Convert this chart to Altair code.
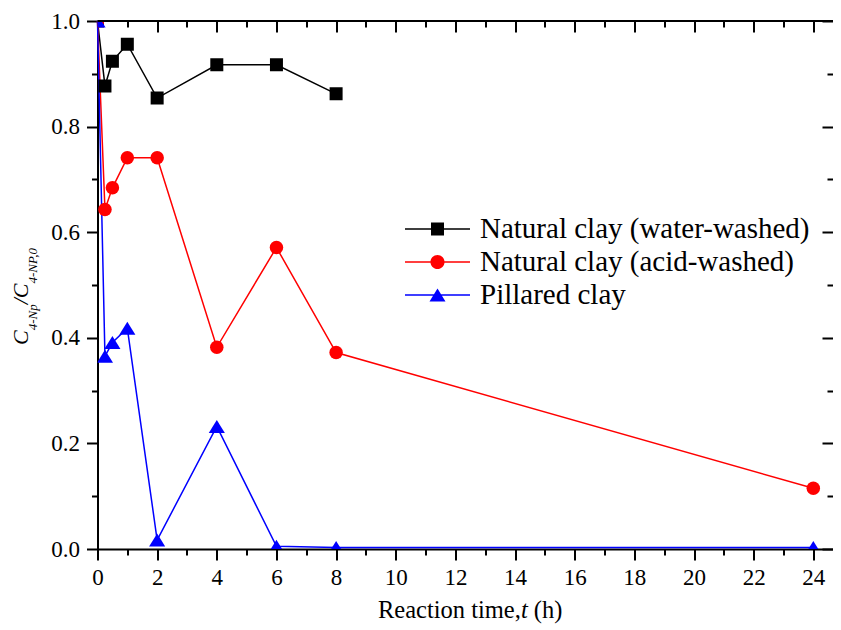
import altair as alt
import pandas as pd

# ---- data ----
times = [0, 0.25, 0.5, 1, 2, 4, 6, 8, 24]
water_washed = [1.0, 0.877, 0.924, 0.956, 0.854, 0.917, 0.917, 0.862]
acid_washed = [1.0, 0.643, 0.684, 0.741, 0.741, 0.382, 0.571, 0.372, 0.115]
pillared = [1.0, 0.365, 0.391, 0.418, 0.017, 0.232, 0.005, 0.003, 0.003]

series_names = ["Natural clay (water-washed)", "Natural clay (acid-washed)", "Pillared clay"]
series_colors = ["#000000", "#ff0000", "#0000ff"]
marker_shapes = ["square", "circle", "M0,-0.93L1.15,0.93L-1.15,0.93Z"]
marker_sizes = [169, 196, 196]
legend_shapes = [
    "M-5,-0.1H5V0.1H-5Z M-1,-1H1V1H-1Z",
    "M-5,-0.1H5V0.1H-5Z M-1.08,0A1.08,1.08 0 1,1 1.08,0A1.08,1.08 0 1,1 -1.08,0Z",
    "M-5,-0.1H5V0.1H-5Z M0,-1L1.23,1L-1.23,1Z",
]
x_ticks = list(range(0, 25))
y_ticks = [round(i * 0.1, 1) for i in range(11)]

rows = []
for name, vals in zip(series_names, [water_washed, acid_washed, pillared]):
    for t, v in zip(times, vals):
        rows.append({"series": name, "t": t, "c": v})
df = pd.DataFrame(rows)

FONT = "Liberation Serif"
W, H = 735.5, 528

x_scale = alt.Scale(domain=[0, 24.66], nice=False, zero=False)
y_scale = alt.Scale(domain=[0, 1], nice=False)
color_scale = alt.Scale(domain=series_names, range=series_colors)

x_minor = "datum.value % 2 !== 0"
y_minor = "round(datum.value * 10) % 2 !== 0"

common_axis = dict(grid=False, domainColor="black", tickColor="black", tickWidth=2,
                   domainWidth=2, labelFont=FONT, labelFontSize=23, labelColor="black",
                   labelOverlap=False, labelFlush=False, title=None)

x_axis_bottom = alt.Axis(orient="bottom", values=x_ticks,
                         tickSize={"condition": {"test": x_minor, "value": 6}, "value": 11},
                         labelExpr="datum.value % 2 === 0 ? datum.label : ''",
                         labelPadding=6, **common_axis)
y_axis_left = alt.Axis(orient="left", values=y_ticks,
                       tickSize={"condition": {"test": y_minor, "value": 6}, "value": 11},
                       labelExpr="round(datum.value * 10) % 2 === 0 ? format(datum.value, '.1f') : ''",
                       labelPadding=7, **common_axis)
x_axis_top = alt.Axis(orient="top", values=x_ticks, labels=False, domain=False, offset=-11,
                      tickSize=11, tickColor="black", tickWidth=2, grid=False, title=None,
                      tickDash={"condition": {"test": x_minor, "value": [0, 5, 6]}, "value": [1, 0]})
y_axis_right = alt.Axis(orient="right", values=y_ticks, labels=False, domain=False, offset=-11,
                        tickSize=11, tickColor="black", tickWidth=2, grid=False, title=None,
                        tickDash={"condition": {"test": y_minor, "value": [0, 5, 6]}, "value": [1, 0]})

lines = alt.Chart(df).mark_line(strokeWidth=1.5).encode(
    x=alt.X("t:Q", scale=x_scale, axis=x_axis_bottom),
    y=alt.Y("c:Q", scale=y_scale, axis=y_axis_left),
    color=alt.Color("series:N", scale=color_scale, legend=None),
    detail="series:N",
)

points = alt.Chart(df).mark_point(filled=True, opacity=1, clip=True).encode(
    x=alt.X("t:Q", scale=x_scale, axis=None),
    y=alt.Y("c:Q", scale=y_scale, axis=None),
    color=alt.Color("series:N", scale=color_scale, legend=None),
    shape=alt.Shape("series:N", scale=alt.Scale(domain=series_names, range=marker_shapes), legend=None),
    size=alt.Size("series:N", scale=alt.Scale(domain=series_names, range=marker_sizes), legend=None),
)

legend_props = dict(title=None, orient="none", legendX=325.5, legendY=193.5, labelFont=FONT,
                    labelFontSize=29, labelColor="black", symbolSize=169, symbolStrokeWidth=0,
                    symbolOpacity=1, labelOffset=28, rowPadding=3, padding=0, labelLimit=0)

dummy = alt.Chart(df).mark_point(filled=True, opacity=0).encode(
    x=alt.X("t:Q", scale=x_scale, axis=x_axis_top),
    y=alt.Y("c:Q", scale=y_scale, axis=y_axis_right),
    color=alt.Color("series:N", scale=alt.Scale(domain=series_names, range=series_colors),
                    legend=alt.Legend(**legend_props)),
    shape=alt.Shape("series:N", scale=alt.Scale(domain=series_names, range=legend_shapes),
                    legend=alt.Legend(**legend_props)),
)

top_border = alt.Chart(pd.DataFrame({"k": [0]})).mark_rule(color="black", strokeWidth=2).encode(
    x=alt.value(0), x2=alt.value(W), y=alt.value(0)
)


def label_piece(text, x, y, size, angle=0, italic=False):
    kw = dict(font=FONT, fontSize=size, color="black", align="left", baseline="alphabetic")
    if angle:
        kw["angle"] = angle
    if italic:
        kw["fontStyle"] = "italic"
    return alt.Chart(pd.DataFrame({"s": [text]})).mark_text(**kw).encode(
        text="s:N", x=alt.value(x), y=alt.value(y))


title_pieces = [
    label_piece("Reaction time,", 280.5, 596.7, 24.5),
    label_piece("t", 423.4, 596.7, 24.5, italic=True),
    label_piece("(h)", 436.3, 596.7, 24.5),
    label_piece("C", -69.5, 324, 22, angle=270, italic=True),
    label_piece("4-Np", -60.5, 309.3, 13, angle=270, italic=True),
    label_piece("/", -69.5, 283.3, 22, angle=270, italic=True),
    label_piece("C", -69.5, 277.2, 22, angle=270, italic=True),
    label_piece("4-NP,0", -60.5, 262.5, 13, angle=270, italic=True),
]

chart = alt.layer(lines, points, dummy, top_border, *title_pieces).resolve_scale(
    color="independent", shape="independent"
).resolve_axis(
    x="independent", y="independent"
).properties(
    width=W, height=H,
    autosize=alt.AutoSizeParams(type="none"),
    padding={"left": 89.5, "top": 13, "right": 0, "bottom": 81},
    view=alt.ViewBackground(strokeWidth=0, stroke="transparent"),
).configure(
    font=FONT,
    style={"guide-label": {"font": FONT}, "guide-title": {"font": FONT}},
).configure_axis(
    labelFont=FONT
).configure_text(
    font=FONT
).configure_legend(
    labelFont=FONT
)

chart.save("out.html", embed_options={"renderer": "svg", "actions": False})
